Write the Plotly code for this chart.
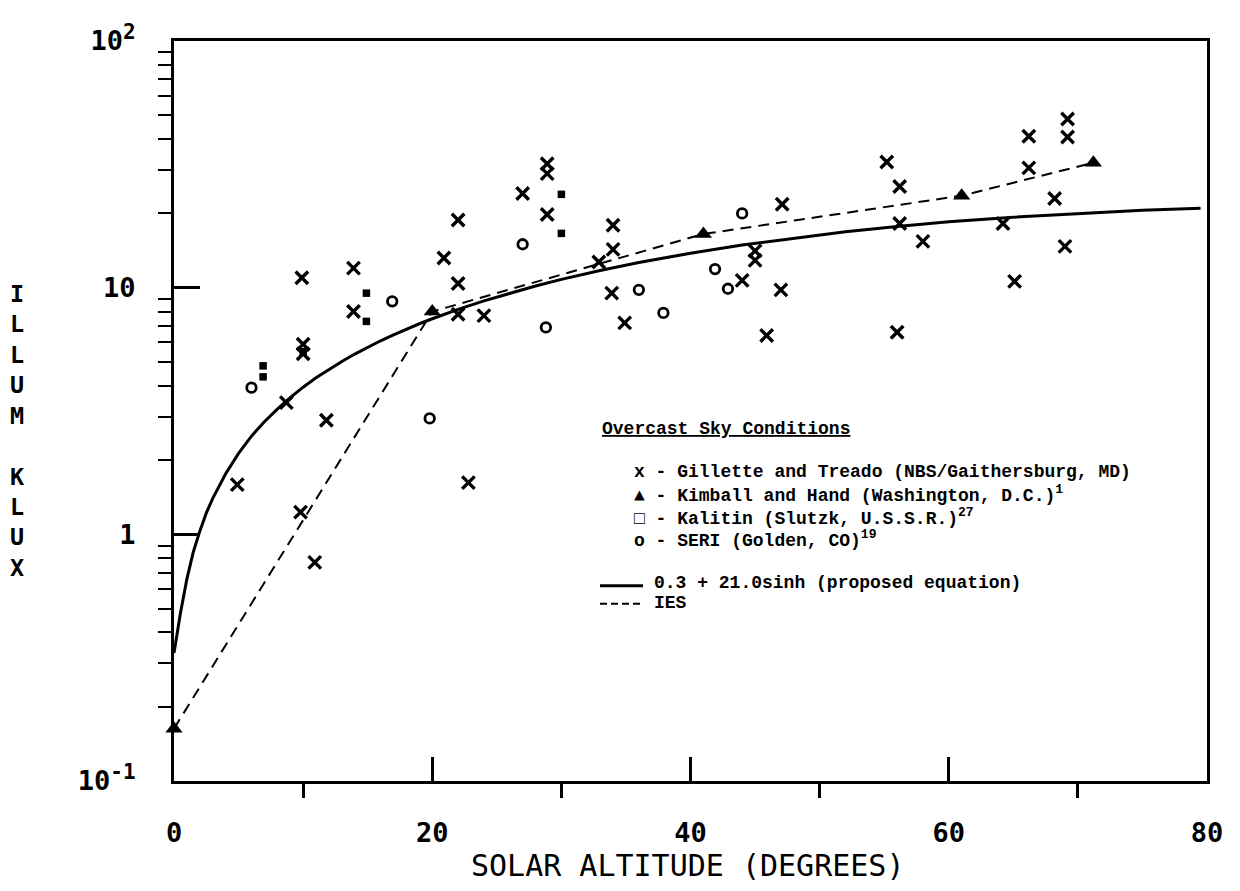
import plotly.graph_objects as go

# ---------------- data ----------------
# Gillette and Treado (NBS/Gaithersburg, MD)  -- "x"
gt_alt = [4.9, 9.8, 10.9, 8.7, 11.8, 9.9, 10.0, 10.0, 13.9, 13.9,
          20.9, 22.0, 22.0, 22.0, 24.0, 22.8, 27.0, 28.9, 28.9, 28.9,
          32.9, 34.0, 34.0, 33.9, 34.9, 44.0, 45.0, 45.0, 45.9, 47.0,
          47.1, 55.2, 56.2, 56.2, 56.0, 58.0, 64.2, 65.1, 66.2, 66.2,
          68.2, 69.0, 69.2, 69.2]
gt_klux = [1.59, 1.23, 0.77, 3.42, 2.9, 10.97, 5.9, 5.4, 12.0, 8.0,
           13.2, 18.8, 10.4, 7.8, 7.7, 1.62, 24.1, 31.8, 29.0, 19.8,
           12.7, 17.9, 14.3, 9.5, 7.2, 10.7, 14.1, 12.9, 6.4, 9.8,
           21.8, 32.3, 25.7, 18.2, 6.6, 15.4, 18.2, 10.6, 41.1, 30.6,
           23.0, 14.7, 48.3, 40.8]

# Kimball and Hand (Washington, D.C.) -- filled triangles
kh_alt = [0.0, 20.0, 41.0, 61.0, 71.2]
kh_klux = [0.163, 8.0, 16.5, 23.6, 32.1]

# Kalitin (Slutzk, U.S.S.R.) -- small filled squares
ka_alt = [6.9, 6.9, 10.0, 14.9, 14.9, 30.0, 30.0]
ka_klux = [4.82, 4.35, 5.5, 9.5, 7.3, 23.9, 16.6]

# SERI (Golden, CO) -- open circles
se_alt = [6.0, 16.9, 19.8, 27.0, 28.8, 36.0, 37.9, 41.9, 42.9, 44.0]
se_klux = [3.93, 8.8, 2.95, 15.0, 6.9, 9.8, 7.9, 11.9, 9.9, 20.0]

# proposed equation curve (0.3 + 21.0 sin h)
eq_alt = [0, 0.5, 1, 1.5, 2, 2.5, 3, 4, 5, 6, 7, 8, 9, 10, 11, 12, 13, 14,
          15, 16, 17, 18, 19, 20, 22, 24, 26, 28, 30, 33, 36, 40, 44, 48,
          52, 56, 60, 65, 70, 75, 79.5]
eq_klux = [0.33, 0.48, 0.66, 0.85, 1.03, 1.22, 1.40, 1.76, 2.13, 2.50,
           2.86, 3.22, 3.58, 3.95, 4.31, 4.67, 5.02, 5.38, 5.74, 6.09,
           6.44, 6.79, 7.14, 7.48, 8.17, 8.84, 9.51, 10.16, 10.8, 11.74,
           12.64, 13.8, 14.9, 15.9, 16.85, 17.7, 18.5, 19.3, 20.0, 20.6,
           21.0]

# IES curve (dashed)
ies_alt = [0.0, 20.0, 41.0, 61.0, 71.2]
ies_klux = [0.163, 8.0, 16.5, 23.6, 32.1]

# axis ticks
SUPY = "<sup><span style='font-size:21px'>%s</span></sup>"
x_tickvals = [0, 20, 40, 60, 80]
x_ticktext = ["0", "20", "40", "60", "80"]
x_minor = [10, 30, 50, 70]
y_tickvals = [0.1, 1, 10, 100]
y_ticktext = ["10" + SUPY % "-1", "1", "10", "10" + SUPY % "2"]
y_minor = [m * d for d in (0.1, 1, 10) for m in range(2, 10)]

SUPL = "<sup><span style='font-size:13px'>%s</span></sup>"
legend_title = "Overcast Sky Conditions"
legend_rows = [
    "x - Gillette and Treado (NBS/Gaithersburg, MD)",
    "\u25b2 - Kimball and Hand (Washington, D.C.)" + SUPL % "1",
    "\u25a1 - Kalitin (Slutzk, U.S.S.R.)" + SUPL % "27",
    "o - SERI (Golden, CO)" + SUPL % "19",
]
line_rows = ["0.3 + 21.0sinh (proposed equation)", "IES"]

# ---------------- figure ----------------
# target plot-area edges in screen pixels
L, R, T, B = 174, 1207, 34, 781
W, H = 1240, 891
OFF = 8  # page body margin


def px(xp):
    return (xp - L) / (R - L)


def py(yp):
    return (B - yp) / (B - T)


fig = go.Figure()

fig.add_trace(go.Scatter(x=eq_alt, y=eq_klux, mode="lines",
                         line=dict(color="black", width=3),
                         cliponaxis=False, hoverinfo="skip"))
fig.add_trace(go.Scatter(x=ies_alt, y=ies_klux, mode="lines",
                         line=dict(color="black", width=2, dash="11px,7px"),
                         cliponaxis=False, hoverinfo="skip"))
fig.add_trace(go.Scatter(x=gt_alt, y=gt_klux, mode="markers",
                         marker=dict(symbol="x-thin", size=12.5, color="black",
                                     line=dict(width=3.4, color="black")),
                         cliponaxis=False))
fig.add_trace(go.Scatter(x=kh_alt, y=kh_klux, mode="markers",
                         marker=dict(symbol="triangle-up", size=15, color="black"),
                         cliponaxis=False))
fig.add_trace(go.Scatter(x=ka_alt, y=ka_klux, mode="markers",
                         marker=dict(symbol="square", size=7.5, color="black"),
                         cliponaxis=False))
fig.add_trace(go.Scatter(x=se_alt, y=se_klux, mode="markers",
                         marker=dict(symbol="circle-open", size=9.5, color="black",
                                     line=dict(width=2.8, color="black")),
                         cliponaxis=False))

tickfont = dict(family="DejaVu Sans Mono", size=27, color="black", weight="bold")

fig.update_xaxes(range=[0, 80], showgrid=False, zeroline=False,
                 showline=True, linecolor="black", linewidth=3, mirror=True,
                 tickmode="array", tickvals=x_tickvals, ticktext=x_ticktext,
                 ticks="inside", ticklen=24, tickwidth=2.5, tickcolor="black",
                 ticklabelstandoff=26, tickfont=tickfont,
                 minor=dict(tickmode="array", tickvals=x_minor, ticks="outside",
                            ticklen=14, tickwidth=2.5, tickcolor="black", showgrid=False))
fig.update_yaxes(type="log", range=[-1, 2], showgrid=False, zeroline=False,
                 showline=True, linecolor="black", linewidth=3, mirror=True,
                 tickmode="array", tickvals=y_tickvals, ticktext=y_ticktext,
                 ticks="inside", ticklen=26, tickwidth=2.5, tickcolor="black",
                 ticklabelstandoff=30, tickfont=tickfont,
                 minor=dict(tickmode="array", tickvals=y_minor, ticks="outside",
                            ticklen=13, tickwidth=2, tickcolor="black", showgrid=False))

ann = []
# axis titles
ann.append(dict(xref="paper", yref="paper", x=px(17), y=py(428),
                text="<br>".join(list("ILLUM") + ["\u00a0"] + list("KLUX")),
                showarrow=False, xanchor="center", yanchor="middle",
                font=dict(family="DejaVu Sans Mono", size=23.4, color="black",
                          weight="bold")))
ann.append(dict(xref="paper", yref="paper", x=px(687), y=py(866),
                text="SOLAR ALTITUDE (DEGREES)", showarrow=False,
                xanchor="center", yanchor="middle",
                font=dict(family="DejaVu Sans Mono", size=30, color="black")))

lfont = dict(family="Liberation Mono", size=18, color="black", weight="bold")
ann.append(dict(xref="paper", yref="paper", x=px(600), y=py(426),
                text="<u>" + legend_title + "</u>", showarrow=False,
                xanchor="left", yanchor="middle", font=lfont))
for i, row in enumerate(legend_rows):
    ann.append(dict(xref="paper", yref="paper", x=px(632), y=py(469 + 22.7 * i),
                    text=row, showarrow=False, xanchor="left", yanchor="middle",
                    font=lfont))
for i, row in enumerate(line_rows):
    ann.append(dict(xref="paper", yref="paper", x=px(652), y=py(581 + 20 * i),
                    text=row, showarrow=False, xanchor="left", yanchor="middle",
                    font=lfont))

shapes = [
    dict(type="line", xref="paper", yref="paper", x0=px(600), x1=px(643),
         y0=py(584), y1=py(584), line=dict(color="black", width=3)),
    dict(type="line", xref="paper", yref="paper", x0=px(600), x1=px(643),
         y0=py(602), y1=py(602), line=dict(color="black", width=2, dash="7px,4px")),
]

fig.update_layout(width=W, height=H, autosize=False,
                  margin=dict(l=L - OFF, r=W - R + OFF, t=T - OFF, b=H - B + OFF),
                  paper_bgcolor="white", plot_bgcolor="white",
                  showlegend=False, annotations=ann, shapes=shapes)

fig.write_html("out.html")
